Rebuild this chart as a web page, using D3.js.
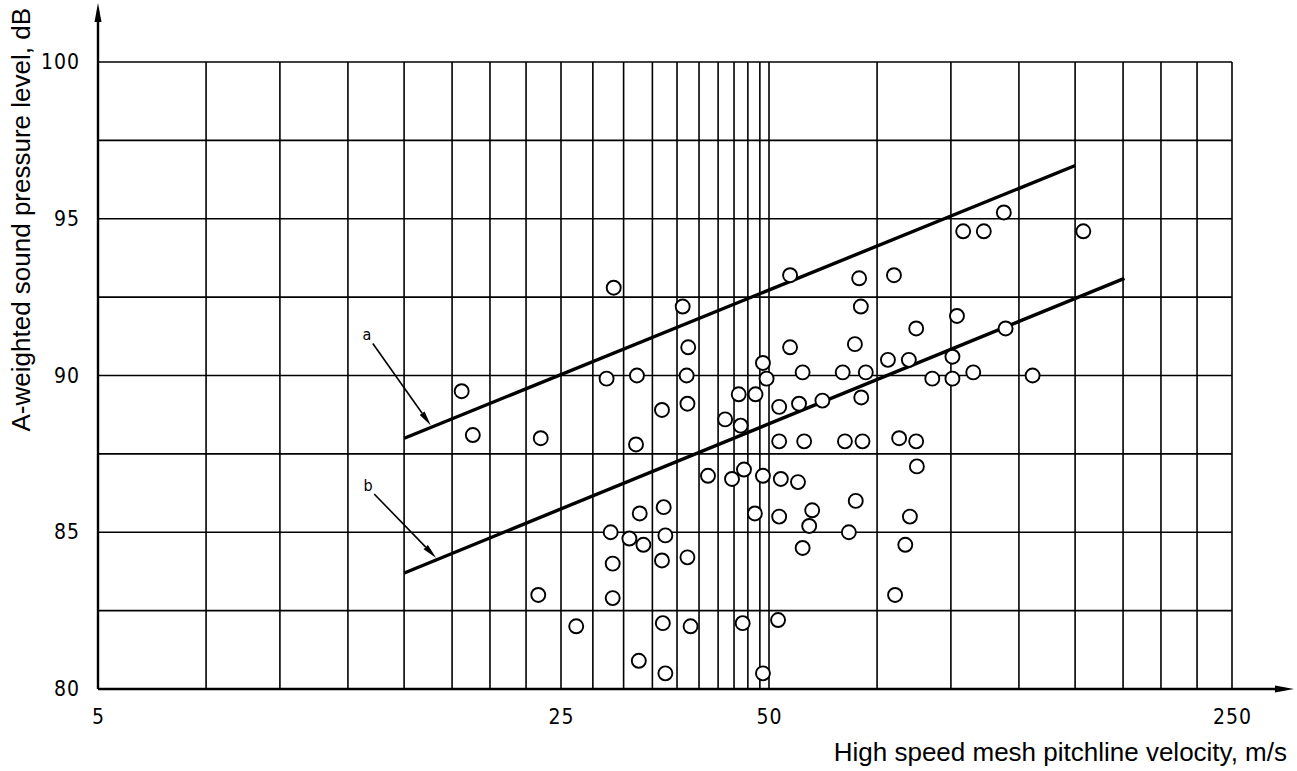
<!DOCTYPE html>
<html><head><meta charset="UTF-8">
<script src="https://cdn.jsdelivr.net/npm/d3@7"></script>
<style>
body{margin:0;background:#fff}
svg{display:block}
.tick text{font-family:"DejaVu Sans Condensed","DejaVu Sans",sans-serif;font-stretch:condensed;font-size:21px;fill:#000}
.title{font-family:"Liberation Sans",Arial,sans-serif;font-size:26px;fill:#000}
.note{font-family:"DejaVu Sans Condensed","DejaVu Sans",sans-serif;font-stretch:condensed;font-size:16px;fill:#000}
</style></head><body><div id="chart"></div><script>
// tick labels and grid (velocity in m/s, level in dB)
const xTickValues = [5, 25, 50, 250];
const yTickValues = [80, 85, 90, 95, 100];
const yGridValues = [82.5, 85, 87.5, 90, 92.5, 95, 97.5, 100];
const xGridValues = [7.28, 9.41, 11.92, 14.49, 17.12, 19.53, 22.14, 25,
  27.8, 30.8, 33.9, 36.8, 39.6, 42.2, 44.5, 46.6, 48.5, 50,
  72.8, 94.1, 119.2, 144.9, 171.2, 195.3, 221.4, 250];

// measured points
const velocity = [17.7, 18.4, 23.3, 23.1, 26.3, 29.1, 29.8, 32.2, 32.1, 32.5,
  29.5, 31.4, 32.9, 29.7, 29.7, 32.4, 37.5, 38.2, 38.0, 35.0,
  38.1, 43.2, 45.5, 45.2, 47.8, 49.0, 49.6, 40.8, 44.2, 46.0,
  49.0, 35.2, 47.7, 35.4, 35.0, 38.1, 35.1, 38.5, 45.8, 35.4,
  49.0, 53.8, 53.8, 56.2, 51.8, 55.5, 60.2, 51.8, 56.5, 52.1,
  55.3, 51.8, 58.1, 57.5, 56.2, 51.6, 68.4, 77.2, 68.8, 96.1,
  83.4, 113.8, 67.4, 75.6, 81.3, 94.6, 64.6, 70.0, 88.2, 94.6,
  101.7, 125.0, 68.9, 65.1, 69.2, 78.6, 83.4, 83.6, 67.6, 81.6,
  66.0, 80.3, 77.5, 98.2, 105.5, 113.1, 149.1];
const level = [89.5, 88.1, 88.0, 83.0, 82.0, 89.9, 92.8, 90.0, 87.8, 85.6,
  85.0, 84.8, 84.6, 84.0, 82.9, 80.9, 92.2, 90.9, 90.0, 88.9,
  89.1, 88.6, 88.4, 89.4, 89.4, 90.4, 89.9, 86.8, 86.7, 87.0,
  86.8, 85.8, 85.6, 84.9, 84.1, 84.2, 82.1, 82.0, 82.1, 80.5,
  80.5, 93.2, 90.9, 90.1, 89.0, 89.1, 89.2, 87.9, 87.9, 86.7,
  86.6, 85.5, 85.7, 85.2, 84.5, 82.2, 93.1, 93.2, 92.2, 91.9,
  91.5, 91.5, 91.0, 90.5, 90.5, 90.6, 90.1, 90.1, 89.9, 89.9,
  90.1, 90.0, 89.3, 87.9, 87.9, 88.0, 87.9, 87.1, 86.0, 85.5,
  85.0, 84.6, 83.0, 94.6, 94.6, 95.2, 94.6];

// limit lines a (upper) and b (lower)
const lineAVelocity = [14.5, 145];
const lineALevel = [88.0, 96.7];
const lineBVelocity = [14.5, 172];
const lineBLevel = [83.7, 93.1];

const W = 1297, H = 771;
const m = { top: 62, left: 98 };
const plotW = 1134, plotH = 627;

const svg = d3.select('#chart').append('svg').attr('width', W).attr('height', H);
svg.append('rect').attr('width', W).attr('height', H).attr('fill', '#fff');
const g = svg.append('g').attr('transform', `translate(${m.left},${m.top})`);

// the drawing stretches the 25..50 band, so piecewise log
const x = d3.scaleLog().domain([5, 25, 50, 250]).range([0, 463, 671, plotW]);
const y = d3.scaleLinear().domain([80, 100]).range([plotH, 0]);

const grid = g.append('g').attr('stroke', '#000').attr('stroke-width', 1.6);
grid.selectAll('.h').data(yGridValues).join('line')
  .attr('x1', 0).attr('x2', plotW).attr('y1', d => y(d)).attr('y2', d => y(d));
grid.selectAll('.v').data(xGridValues).join('line')
  .attr('x1', d => x(d)).attr('x2', d => x(d)).attr('y1', 0).attr('y2', plotH);

// axes with arrows
const axes = g.append('g').attr('stroke', '#000').attr('stroke-width', 2.4);
axes.append('line').attr('x1', 0).attr('x2', 0).attr('y1', plotH).attr('y2', -50);
axes.append('line').attr('x1', 0).attr('x2', plotW + 52).attr('y1', plotH).attr('y2', plotH);
g.append('path').attr('d', `M0,-59 L-3.5,-40 L3.5,-40 Z`).attr('fill', '#000');
g.append('path').attr('d', `M${plotW + 62},${plotH} L${plotW + 43},${plotH - 3.5} L${plotW + 43},${plotH + 3.5} Z`).attr('fill', '#000');

const yAxis = g.append('g').call(d3.axisLeft(y).tickValues(yTickValues).tickSize(0).tickPadding(18));
yAxis.select('.domain').remove();
yAxis.selectAll('text').attr('letter-spacing', 1);
const xAxis = g.append('g').attr('transform', `translate(0,${plotH})`)
  .call(d3.axisBottom(x).tickValues(xTickValues).tickFormat(d3.format('d')).tickSize(0).tickPadding(20));
xAxis.select('.domain').remove();
xAxis.selectAll('text').attr('letter-spacing', 1);

// lines a and b
const lineGen = d3.line().x(d => x(d[0])).y(d => y(d[1]));
const lineA = d3.zip(lineAVelocity, lineALevel);
const lineB = d3.zip(lineBVelocity, lineBLevel);
g.append('path').attr('d', lineGen(lineA)).attr('stroke', '#000').attr('stroke-width', 3.4).attr('fill', 'none');
g.append('path').attr('d', lineGen(lineB)).attr('stroke', '#000').attr('stroke-width', 3.4).attr('fill', 'none');

// label arrows pointing at the lines
const notes = [
  { text: 'a', line: lineA, at: 15.9, dx: -58, dy: -82 },
  { text: 'b', line: lineB, at: 16.2, dx: -62, dy: -64 }
];
notes.forEach(n => {
  const [p0, p1] = n.line;
  const t = (x(n.at) - x(p0[0])) / (x(p1[0]) - x(p0[0]));
  const tx = x(n.at), ty = y(p0[1]) + t * (y(p1[1]) - y(p0[1])) - 2;
  const sx = tx + n.dx, sy = ty + n.dy;
  const ang = Math.atan2(ty - sy, tx - sx);
  const len = 15, hw = 3;
  const bx = tx - len * Math.cos(ang), by = ty - len * Math.sin(ang);
  g.append('line').attr('x1', sx).attr('y1', sy).attr('x2', bx).attr('y2', by)
    .attr('stroke', '#000').attr('stroke-width', 1.6);
  g.append('path').attr('fill', '#000').attr('d',
    `M${tx},${ty} L${bx + hw * Math.sin(ang)},${by - hw * Math.cos(ang)} L${bx - hw * Math.sin(ang)},${by + hw * Math.cos(ang)} Z`);
  g.append('text').attr('class', 'note').attr('x', sx - 6).attr('y', sy - 3)
    .attr('text-anchor', 'middle').text(n.text);
});

// points
g.append('g').selectAll('circle').data(d3.zip(velocity, level)).join('circle')
  .attr('cx', d => x(d[0])).attr('cy', d => y(d[1])).attr('r', 7)
  .attr('fill', '#fff').attr('stroke', '#000').attr('stroke-width', 1.9);

// titles
svg.append('text').attr('class', 'title').attr('text-anchor', 'end')
  .attr('x', 1287).attr('y', 761).text('High speed mesh pitchline velocity, m/s');
svg.append('text').attr('class', 'title').attr('text-anchor', 'end')
  .attr('transform', 'translate(30,8) rotate(-90)').text('A-weighted sound pressure level, dB');
</script></body></html>
